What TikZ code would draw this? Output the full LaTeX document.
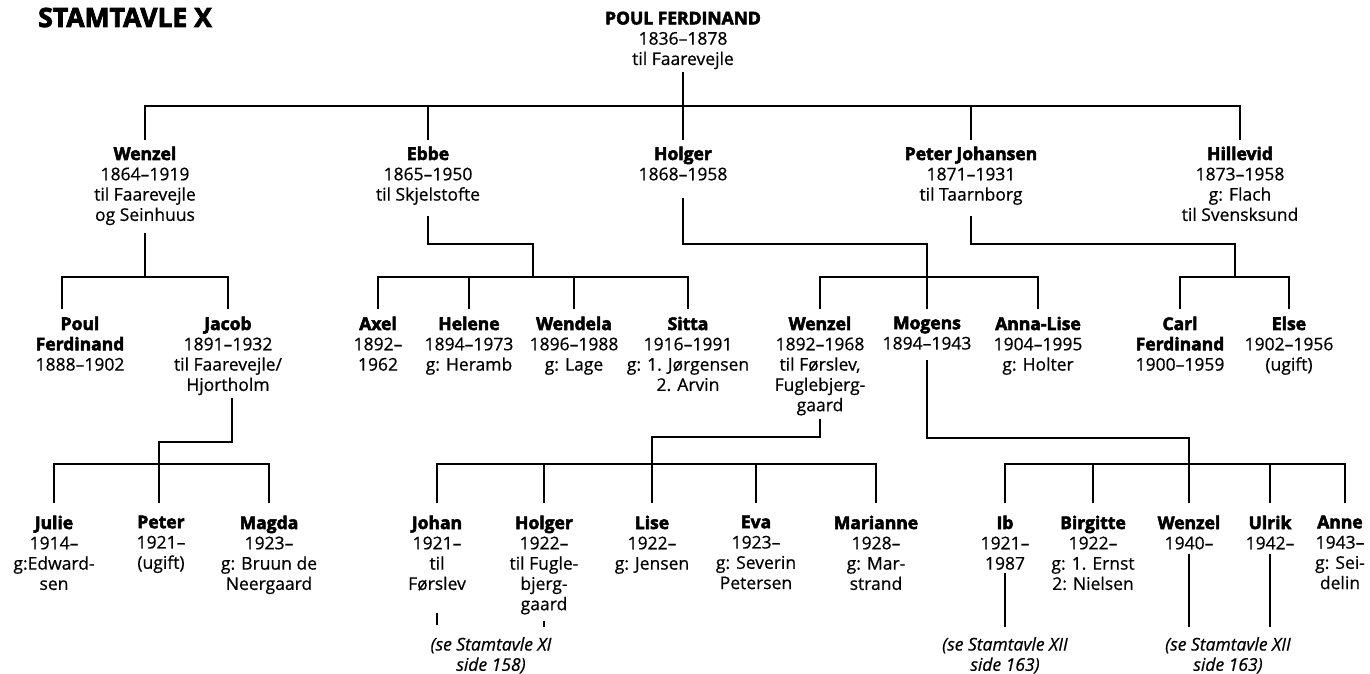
\documentclass[tikz,border=0pt]{standalone}
\usepackage{fontspec}
\setmainfont{Open Sans}[UprightFeatures={FakeBold=0.6}, BoldFeatures={FakeBold=3}, ItalicFeatures={FakeBold=0.6}]
\begin{document}
\begin{tikzpicture}[x=1pt,y=1pt,
  link/.style={line width=1.2pt},
  person/.style={align=center, anchor=north, inner sep=0pt,
    font=\fontsize{17.5}{20.3}\selectfont,
    execute at begin node={\rule{0pt}{13pt}}},
  seeref/.style={align=center, anchor=north, inner sep=0pt,
    font=\fontsize{17.5}{20.3}\selectfont\itshape,
    execute at begin node={\rule{0pt}{14pt}}},
  maintitle/.style={anchor=base west, inner sep=0pt,
    font=\fontsize{26.5}{30}\selectfont\bfseries}]
\useasboundingbox (0,0) rectangle (1370,-674);

\node[maintitle] (title) at (38,-27) {STAMTAVLE X};

% root
\node[person] (root) at (683,-11.5) {\textbf{POUL FERDINAND}\\1836–1878\\til Faarevejle};

% generation 1
\node[person] (wenzel1) at (145,-146.5) {\textbf{Wenzel}\\1864–1919\\til Faarevejle\\og Seinhuus};
\node[person] (ebbe) at (428,-146.5) {\textbf{Ebbe}\\1865–1950\\til Skjelstofte};
\node[person] (holger1) at (683,-146.5) {\textbf{Holger}\\1868–1958};
\node[person] (peterj) at (971,-146.5) {\textbf{Peter Johansen}\\1871–1931\\til Taarnborg};
\node[person] (hillevid) at (1240,-146.5) {\textbf{Hillevid}\\1873–1958\\g: Flach\\til Svensksund};

% generation 2
\node[person] (poulf) at (80,-316.5) {\textbf{Poul}\\\textbf{Ferdinand}\\1888–1902};
\node[person] (jacob) at (228,-316.5) {\textbf{Jacob}\\1891–1932\\til Faarevejle/\\Hjortholm};
\node[person] (axel) at (378,-316.5) {\textbf{Axel}\\1892–\\1962};
\node[person] (helene) at (469,-316.5) {\textbf{Helene}\\1894–1973\\g: Heramb};
\node[person] (wendela) at (574,-316.5) {\textbf{Wendela}\\1896–1988\\g: Lage};
\node[person] (sitta) at (688,-316.5) {\textbf{Sitta}\\1916–1991\\g: 1. Jørgensen\\2. Arvin};
\node[person] (wenzel2) at (820,-316.5) {\textbf{Wenzel}\\1892–1968\\til Førslev,\\Fuglebjerg-\\gaard};
\node[person] (mogens) at (927,-316.5) {\textbf{Mogens}\\1894–1943};
\node[person] (annalise) at (1038,-316.5) {\textbf{Anna-Lise}\\1904–1995\\g: Holter};
\node[person] (carl) at (1180,-316.5) {\textbf{Carl}\\\textbf{Ferdinand}\\1900–1959};
\node[person] (elsen) at (1289,-316.5) {\textbf{Else}\\1902–1956\\(ugift)};

% generation 3
\node[person] (julie) at (54,-515.5) {\textbf{Julie}\\1914–\\g:Edward-\\sen};
\node[person] (peter) at (161,-515.5) {\textbf{Peter}\\1921–\\(ugift)};
\node[person] (magda) at (269,-515.5) {\textbf{Magda}\\1923–\\g: Bruun de\\Neergaard};
\node[person] (johan) at (437,-515.5) {\textbf{Johan}\\1921–\\til\\Førslev};
\node[person] (holger3) at (544,-515.5) {\textbf{Holger}\\1922–\\til Fugle-\\bjerg-\\gaard};
\node[person] (lise) at (652,-515.5) {\textbf{Lise}\\1922–\\g: Jensen};
\node[person] (eva) at (756,-515.5) {\textbf{Eva}\\1923–\\g: Severin\\Petersen};
\node[person] (marianne) at (876,-515.5) {\textbf{Marianne}\\1928–\\g: Mar-\\strand};
\node[person] (ib) at (1005,-515.5) {\textbf{Ib}\\1921–\\1987};
\node[person] (birgitte) at (1093,-515.5) {\textbf{Birgitte}\\1922–\\g: 1. Ernst\\2: Nielsen};
\node[person] (wenzel3) at (1189,-515.5) {\textbf{Wenzel}\\1940–};
\node[person] (ulrik) at (1270,-515.5) {\textbf{Ulrik}\\1942–};
\node[person] (anne) at (1340,-515.5) {\textbf{Anne}\\1943–\\g: Sei-\\delin};

% references
\node[seeref] (ref1) at (491,-637) {(se Stamtavle XI\\side 158)};
\node[seeref] (ref2) at (1005,-637) {(se Stamtavle XII\\side 163)};
\node[seeref] (ref3) at (1228,-637) {(se Stamtavle XII\\side 163)};

% junctions
\coordinate (b0) at (683,-106);
\coordinate (j1) at (145,-277);
\coordinate (j2a) at (533,-244);
\coordinate (j2) at (533,-277);
\coordinate (j3a) at (927,-244);
\coordinate (j3) at (927,-277);
\coordinate (j4a) at (1235,-244);
\coordinate (j4) at (1235,-277);
\coordinate (j5b) at (159,-442);
\coordinate (j5) at (159,-464);
\coordinate (j6b) at (652,-437);
\coordinate (j6) at (652,-464);
\coordinate (j7b) at (1189,-438);
\coordinate (j7) at (1189,-464);

% root to generation 1
\draw[link] ([yshift=-3pt]root.south) -- ([yshift=6pt]holger1.north);
\draw[link] ([yshift=6pt]wenzel1.north) |- (b0) -| ([yshift=6pt]hillevid.north);
\draw[link] (ebbe.north |- b0) -- ([yshift=6pt]ebbe.north);
\draw[link] (peterj.north |- b0) -- ([yshift=6pt]peterj.north);

% Wenzel
\draw[link] ([yshift=-8pt]wenzel1.south) -- (j1);
\draw[link] ([shift={(-18pt,8pt)}]poulf.north) |- (j1) -| ([yshift=8pt]jacob.north);

% Ebbe
\draw[link] ([yshift=-11pt]ebbe.south) |- (j2a) -- (j2);
\draw[link] ([yshift=8pt]axel.north) |- (j2) -| ([yshift=8pt]sitta.north);
\draw[link] (helene.north |- j2) -- ([yshift=8pt]helene.north);
\draw[link] (wendela.north |- j2) -- ([yshift=8pt]wendela.north);

% Holger
\draw[link] ([yshift=-17pt]holger1.south) |- (j3a) -- (j3);
\draw[link] ([yshift=8pt]wenzel2.north) |- (j3) -| ([yshift=8pt]annalise.north);
\draw[link] (mogens.north |- j3) -- ([yshift=8pt]mogens.north);

% Peter Johansen
\draw[link] ([yshift=-11pt]peterj.south) |- (j4a) -- (j4);
\draw[link] ([yshift=8pt]carl.north) |- (j4) -| ([yshift=8pt]elsen.north);

% Jacob
\draw[link] ([shift={(4pt,-3pt)}]jacob.south) |- (j5b) -- ([shift={(-2pt,13pt)}]peter.north);
\draw[link] ([yshift=13pt]julie.north) |- (j5) -| ([yshift=13pt]magda.north);

% Wenzel (2)
\draw[link] ([yshift=-3pt]wenzel2.south) |- (j6b) -- ([yshift=13pt]lise.north);
\draw[link] ([yshift=13pt]johan.north) |- (j6) -| ([yshift=13pt]marianne.north);
\draw[link] (holger3.north |- j6) -- ([yshift=13pt]holger3.north);
\draw[link] (eva.north |- j6) -- ([yshift=13pt]eva.north);

% Mogens
\draw[link] ([yshift=-10pt]mogens.south) |- (j7b) -- ([yshift=13pt]wenzel3.north);
\draw[link] ([yshift=13pt]ib.north) |- (j7) -| ([shift={(5pt,13pt)}]anne.north);
\draw[link] (birgitte.north |- j7) -- ([yshift=13pt]birgitte.north);
\draw[link] (ulrik.north |- j7) -- ([yshift=13pt]ulrik.north);

% references
\draw[link, shorten <=22pt, shorten >=12pt] (johan.south) -- (johan.south |- ref1.north);
\draw[link, shorten <=6pt, shorten >=10pt] (holger3.south) -- (holger3.south |- ref1.north);
\draw[link, shorten <=3pt, shorten >=10pt] (ib.south) -- (ib.south |- ref2.north);
\draw[link, shorten <=4pt, shorten >=10pt] (wenzel3.south) -- (wenzel3.south |- ref3.north);
\draw[link, shorten <=4pt, shorten >=10pt] (ulrik.south) -- (ulrik.south |- ref3.north);
\end{tikzpicture}
\end{document}
